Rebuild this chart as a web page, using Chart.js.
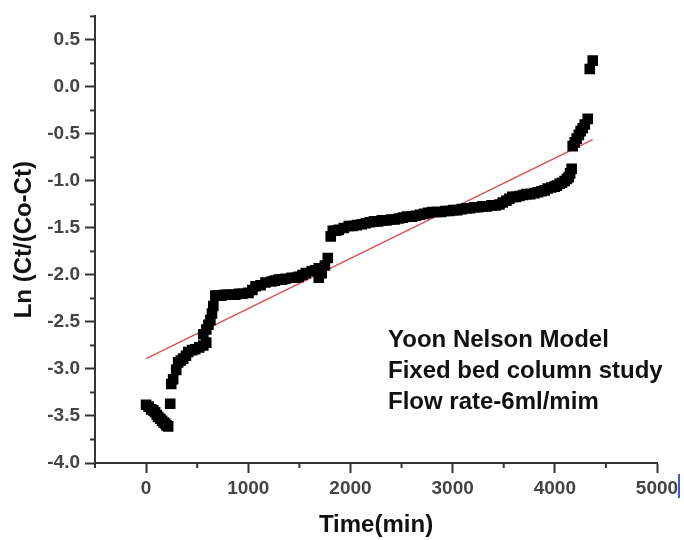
<!DOCTYPE html>
<html>
<head>
<meta charset="utf-8">
<script src="https://cdn.jsdelivr.net/npm/chart.js@4"></script>
<style>
  html, body { margin: 0; padding: 0; background: #fff; }
  #wrap { width: 684px; height: 540px; }
</style>
</head>
<body>
<div id="wrap"><canvas id="chart" width="684" height="540"></canvas></div>
<script>
// Time (min) and Ln(Ct/(Co-Ct))
const timeMin = [0, 25, 49, 70, 88, 105, 118, 140, 157, 172, 187, 200, 216, 236, 246, 265, 295, 314, 340, 363, 390,
  413, 450, 481, 520, 560, 589, 560, 589, 610, 629, 645, 658, 678, 705, 737, 770, 805, 840, 874, 910, 943, 1002, 1040,
  1071, 1120, 1169, 1228, 1260, 1297, 1330, 1365, 1424, 1460, 1493, 1530, 1562, 1621, 1655, 1690, 1690, 1719, 1750,
  1778, 1807, 1827, 1855, 1886, 1935, 1984, 2020, 2063, 2110, 2151, 2190, 2230, 2270, 2308, 2350, 2397, 2435, 2475,
  2515, 2554, 2600, 2642, 2680, 2721, 2760, 2800, 2845, 2888, 2930, 2967, 3005, 3045, 3090, 3134, 3170, 3212, 3250,
  3291, 3335, 3379, 3420, 3458, 3490, 3526, 3555, 3585, 3620, 3654, 3690, 3723, 3760, 3802, 3835, 3870, 3900, 3929,
  3965, 3998, 4020, 4047, 4070, 4096, 4118, 4136, 4150, 4165, 4175, 4195, 4214, 4235, 4253, 4273, 4293, 4322, 4342,
  4371];
const lnRatio = [-3.38, -3.40, -3.43, -3.44, -3.46, -3.49, -3.51, -3.53, -3.55, -3.57, -3.58, -3.60, -3.61, -3.37,
  -3.16, -3.11, -3.01, -2.93, -2.91, -2.89, -2.86, -2.82, -2.80, -2.79, -2.77, -2.75, -2.72, -2.63, -2.58, -2.53,
  -2.48, -2.41, -2.33, -2.22, -2.22, -2.22, -2.21, -2.21, -2.21, -2.21, -2.20, -2.20, -2.19, -2.16, -2.12, -2.11,
  -2.08, -2.07, -2.06, -2.05, -2.05, -2.04, -2.03, -2.03, -2.02, -2.00, -1.98, -1.96, -1.95, -1.93, -2.03, -1.98,
  -1.90, -1.82, -1.59, -1.53, -1.53, -1.52, -1.50, -1.48, -1.48, -1.47, -1.46, -1.45, -1.44, -1.43, -1.43, -1.42,
  -1.42, -1.41, -1.41, -1.40, -1.39, -1.38, -1.38, -1.37, -1.36, -1.35, -1.34, -1.33, -1.33, -1.33, -1.32, -1.32,
  -1.31, -1.31, -1.30, -1.29, -1.29, -1.28, -1.28, -1.27, -1.27, -1.26, -1.26, -1.25, -1.23, -1.21, -1.19, -1.17,
  -1.17, -1.16, -1.15, -1.14, -1.14, -1.13, -1.12, -1.11, -1.10, -1.08, -1.07, -1.06, -1.05, -1.03, -1.02, -1.00,
  -0.98, -0.96, -0.92, -0.87, -0.63, -0.59, -0.55, -0.51, -0.47, -0.44, -0.40, -0.34, 0.19, 0.28];

// linear fit line (end points)
const fitX = [0, 4370];
const fitY = [-2.89, -0.56];

const xTicks = [0, 1000, 2000, 3000, 4000, 5000];
const xMinor = [-500, 500, 1500, 2500, 3500, 4500];
const yTicks = [-4.0, -3.5, -3.0, -2.5, -2.0, -1.5, -1.0, -0.5, 0.0, 0.5];
const yMinor = [-3.75, -3.25, -2.75, -2.25, -1.75, -1.25, -0.75, -0.25, 0.25, 0.75];

const noteLines = ['Yoon Nelson Model', 'Fixed bed column study', 'Flow rate-6ml/mim'];

const axisColor = '#333';
const tickFont = { family: 'Liberation Sans, Arial, sans-serif', size: 19, weight: 'bold' };

// short minor ticks, the text box and the little blue mark at the right
const extras = {
  id: 'extras',
  afterDraw(chart) {
    const c = chart.ctx;
    const xs = chart.scales.x, ys = chart.scales.y;
    const area = chart.chartArea;
    c.save();
    c.strokeStyle = axisColor;
    c.lineWidth = 2;
    xMinor.forEach(v => {
      const px = xs.getPixelForValue(v);
      c.beginPath(); c.moveTo(px, area.bottom); c.lineTo(px, area.bottom + 5); c.stroke();
    });
    yMinor.forEach(v => {
      const py = ys.getPixelForValue(v);
      c.beginPath(); c.moveTo(area.left, py); c.lineTo(area.left - 5, py); c.stroke();
    });

    c.fillStyle = '#111';
    c.font = 'bold 24px "Liberation Sans", Arial, sans-serif';
    c.textBaseline = 'middle';
    noteLines.forEach((t, i) => c.fillText(t, 388, 340 + i * 31));

    c.strokeStyle = '#3b5bd6';
    c.lineWidth = 2;
    c.beginPath(); c.moveTo(679, 474); c.lineTo(679, 498); c.stroke();
    c.restore();
  }
};

new Chart(document.getElementById('chart'), {
  type: 'scatter',
  data: {
    datasets: [
      {
        data: timeMin.map((t, i) => ({ x: t, y: lnRatio[i] })),
        pointStyle: 'rect',
        pointRadius: 7.5,
        backgroundColor: '#000',
        borderColor: '#000',
        borderWidth: 0
      },
      {
        type: 'line',
        data: fitX.map((t, i) => ({ x: t, y: fitY[i] })),
        borderColor: '#d9534f',
        borderWidth: 1.5,
        pointRadius: 0,
        fill: false
      }
    ]
  },
  plugins: [extras],
  options: {
    responsive: false,
    animation: false,
    layout: { padding: { top: 11, right: 27, left: 10, bottom: 0 } },
    plugins: { legend: { display: false }, tooltip: { enabled: false } },
    scales: {
      x: {
        type: 'linear',
        min: -500,
        max: 5000,
        afterFit: s => { s.height = 77; },
        afterBuildTicks: s => { s.ticks = xTicks.map(v => ({ value: v })); },
        border: { display: true, color: axisColor, width: 2 },
        grid: { drawOnChartArea: false, drawTicks: true, tickLength: 10, tickColor: axisColor, tickWidth: 2 },
        ticks: { color: '#444', font: tickFont, padding: 4, maxRotation: 0, callback: v => String(v) },
        title: {
          display: true,
          text: 'Time(min)',
          color: '#111',
          font: { family: 'Liberation Sans, Arial, sans-serif', size: 24, weight: 'bold' },
          padding: { top: 6, bottom: 0 }
        }
      },
      y: {
        min: -4.0,
        max: 0.75,
        afterFit: s => { s.width = 85; },
        afterBuildTicks: s => { s.ticks = yTicks.map(v => ({ value: v })); },
        border: { display: true, color: axisColor, width: 2 },
        grid: { drawOnChartArea: false, drawTicks: true, tickLength: 10, tickColor: axisColor, tickWidth: 2 },
        ticks: { color: '#444', font: tickFont, padding: 5, callback: v => v.toFixed(1) },
        title: {
          display: true,
          text: 'Ln (Ct/(Co-Ct)',
          color: '#111',
          font: { family: 'Liberation Sans, Arial, sans-serif', size: 24, weight: 'bold' },
          padding: { top: 0, bottom: 0 }
        }
      }
    }
  }
});
</script>
</body>
</html>
